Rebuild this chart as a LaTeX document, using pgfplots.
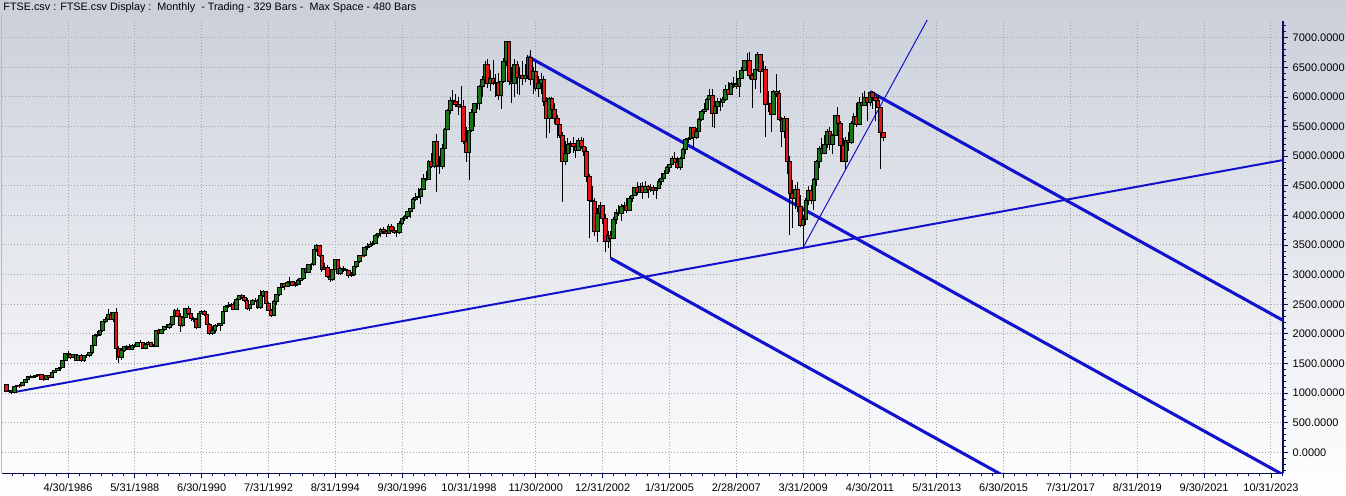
\documentclass[border=0pt]{standalone}
\usepackage{fontspec}
\setmainfont{Liberation Sans}
\usepackage{pgfplots}
\usepackage{pgfplotstable}
\pgfplotsset{compat=1.18}

\definecolor{cgreen}{RGB}{24,118,24}
\definecolor{cred}{RGB}{226,22,22}
\definecolor{tline}{RGB}{18,18,205}
\definecolor{navy}{RGB}{12,12,92}
\definecolor{gridc}{RGB}{165,165,170}
\definecolor{bgtop}{RGB}{202,207,218}
\definecolor{bgmid}{RGB}{236,238,243}

\pgfdeclareplotmark{nothing}{}
\def\kk{0.0444212}
\newcommand\fpcalc[2]{\begingroup\pgfkeys{/pgf/fpu=true,/pgf/fpu/output format=fixed}\pgfmathparse{#2}\xdef#1{\pgfmathresult}\endgroup}

\pgfplotstableread{
m o h l c
-23 1138 1140 1015 1022
-22 1022 1060 1000 1041
-21 1041 1050 986 1010
-20 1010 1110 1005 1104
-19 1104 1140 1095 1125
-18 1125 1145 1090 1120
-17 1120 1190 1115 1182
-16 1182 1235 1175 1232
-15 1232 1290 1225 1280
-14 1280 1300 1250 1260
-13 1260 1300 1250 1278
-12 1278 1300 1260 1291
-11 1291 1330 1280 1314
-10 1314 1320 1225 1234
-9 1234 1260 1200 1222
-8 1222 1300 1218 1290
-7 1290 1300 1250 1264
-6 1264 1360 1260 1353
-5 1353 1395 1340 1383
-4 1383 1415 1370 1412
-3 1412 1440 1380 1435
-2 1435 1550 1430 1543
-1 1543 1680 1540 1668
0 1668 1717 1630 1660
1 1660 1670 1570 1603
2 1603 1660 1590 1649
3 1649 1655 1540 1558
4 1558 1650 1550 1643
5 1643 1660 1530 1542
6 1542 1640 1530 1633
7 1633 1660 1590 1637
8 1637 1690 1610 1679
9 1679 1810 1660 1808
10 1808 1990 1800 1979
11 1979 2050 1950 1997
12 1997 2060 1970 2050
13 2050 2210 2030 2203
14 2203 2280 2180 2248
15 2248 2420 2240 2323
16 2323 2370 2230 2249
17 2249 2370 2200 2366
18 2366 2443 1565 1749
19 1749 1790 1515 1600
20 1600 1760 1560 1713
21 1713 1800 1690 1790
22 1790 1810 1720 1769
23 1769 1830 1730 1742
24 1742 1820 1730 1802
25 1802 1830 1760 1784
26 1784 1870 1780 1857
27 1857 1890 1840 1853
28 1853 1870 1740 1753
29 1753 1840 1740 1826
30 1826 1880 1810 1852
31 1852 1860 1770 1783
32 1783 1820 1770 1793
33 1793 2060 1780 2052
34 2052 2090 1990 2002
35 2002 2090 1990 2075
36 2075 2130 2040 2119
37 2119 2160 2090 2114
38 2114 2180 2090 2151
39 2151 2300 2140 2297
40 2297 2420 2290 2387
41 2387 2430 2290 2299
42 2299 2360 2030 2142
43 2142 2290 2110 2276
44 2276 2430 2260 2423
45 2423 2465 2310 2337
46 2337 2360 2220 2255
47 2255 2290 2200 2247
48 2247 2260 2080 2103
49 2103 2360 2100 2345
50 2345 2400 2330 2375
51 2375 2400 2300 2326
52 2326 2340 2120 2162
53 2162 2180 1985 2005
54 2005 2140 1980 2050
55 2050 2160 2020 2149
56 2149 2190 2120 2144
57 2144 2190 2050 2170
58 2170 2390 2160 2380
59 2380 2480 2370 2456
60 2456 2530 2440 2486
61 2486 2520 2450 2500
62 2500 2540 2400 2415
63 2415 2600 2400 2588
64 2588 2660 2570 2645
65 2645 2680 2590 2622
66 2622 2660 2540 2566
67 2566 2600 2400 2420
68 2420 2500 2390 2493
69 2493 2590 2480 2571
70 2571 2600 2530 2562
71 2562 2580 2420 2440
72 2440 2740 2420 2655
73 2655 2740 2630 2707
74 2707 2720 2510 2521
75 2521 2540 2380 2400
76 2400 2420 2281 2312
77 2312 2570 2300 2554
78 2554 2680 2480 2658
79 2658 2790 2640 2778
80 2778 2860 2740 2847
81 2847 2860 2740 2807
82 2807 2900 2790 2868
83 2868 2960 2840 2878
84 2878 2900 2800 2813
85 2813 2880 2790 2841
86 2841 2920 2820 2900
87 2900 2940 2830 2927
88 2927 3110 2910 3100
89 3100 3110 2990 3038
90 3038 3180 3030 3171
91 3171 3200 3080 3166
92 3166 3430 3150 3418
93 3418 3520 3380 3491
94 3491 3500 3300 3328
95 3328 3350 3050 3086
96 3086 3200 3070 3125
97 3125 3170 2950 2970
98 2970 3050 2876 2919
99 2919 3100 2900 3082
100 3082 3260 3070 3251
101 3251 3260 2990 3027
102 3027 3130 2990 3097
103 3097 3150 3040 3081
104 3081 3090 2990 3066
105 3066 3070 2950 2991
106 2991 3050 2954 3009
107 3009 3150 2980 3137
108 3137 3230 3110 3216
109 3216 3330 3200 3320
110 3320 3400 3290 3315
111 3315 3470 3300 3463
112 3463 3530 3420 3477
113 3477 3560 3460 3508
114 3508 3560 3490 3529
115 3529 3680 3520 3664
116 3664 3700 3610 3689
117 3689 3790 3640 3760
118 3760 3800 3680 3727
119 3727 3760 3630 3699
120 3699 3860 3690 3818
121 3818 3850 3720 3747
122 3747 3800 3690 3711
123 3711 3760 3630 3703
124 3703 3900 3690 3867
125 3867 3970 3840 3953
126 3953 4000 3910 3979
127 3979 4070 3940 4058
128 4058 4120 3960 4119
129 4119 4290 4050 4275
130 4275 4370 4250 4308
131 4308 4460 4290 4312
132 4312 4460 4190 4437
133 4437 4700 4430 4621
134 4621 4750 4580 4604
135 4604 4940 4590 4907
136 4907 5060 4800 4818
137 4818 5250 4800 5244
138 5244 5370 4400 4842
139 4842 5000 4700 4831
140 4831 5200 4780 5136
141 5136 5480 5050 5458
142 5458 5800 5440 5767
143 5767 6000 5720 5932
144 5932 6110 5800 5928
145 5928 6050 5830 5870
146 5870 6000 5700 5833
147 5833 6180 5800 5837
148 5837 5950 5200 5249
149 5249 5500 4900 5064
150 5064 5500 4600 5438
151 5438 5800 5400 5743
152 5743 5900 5500 5883
153 5883 6150 5800 5896
154 5896 6200 5780 6175
155 6175 6350 6000 6296
156 6296 6600 6260 6552
157 6552 6640 6150 6226
158 6226 6450 6100 6318
159 6318 6620 6200 6231
160 6231 6380 6000 6246
161 6246 6400 5950 6030
162 6030 6300 5800 6255
163 6255 6650 6230 6597
164 6597 6950 6530 6930
165 6930 6950 6200 6268
166 6268 6500 5900 6232
167 6232 6640 6000 6540
168 6540 6600 6050 6327
169 6327 6500 6030 6359
170 6359 6600 6200 6313
171 6313 6550 6250 6365
172 6365 6700 6300 6672
173 6672 6800 6200 6294
174 6294 6500 6050 6438
175 6438 6600 6100 6142
176 6142 6350 6000 6222
177 6222 6400 6050 6298
178 6298 6350 5850 5918
179 5918 6000 5300 5634
180 5634 6000 5385 5967
181 5967 6000 5750 5796
182 5796 5900 5550 5643
183 5643 5700 5300 5529
184 5529 5560 5300 5345
185 5345 5400 4230 4903
186 4903 5250 4850 5040
187 5040 5300 4950 5204
188 5204 5250 5050 5217
189 5217 5320 5050 5165
190 5165 5200 4970 5101
191 5101 5300 5090 5272
192 5272 5330 5120 5165
193 5165 5300 5000 5086
194 5086 5150 4560 4656
195 4656 4700 3612 4246
196 4246 4500 4000 4227
197 4227 4300 3650 3722
198 3722 4130 3550 4039
199 4039 4220 3950 4169
200 4169 4180 3850 3940
201 3940 4020 3386 3567
202 3567 3730 3450 3656
203 3656 3740 3277 3613
204 3613 3980 3600 3926
205 3926 4100 3850 4049
206 4049 4180 3990 4031
207 4031 4200 3900 4157
208 4157 4230 4100 4161
209 4161 4300 4040 4091
210 4091 4320 4080 4288
211 4288 4370 4230 4342
212 4342 4480 4320 4477
213 4477 4560 4340 4390
214 4390 4540 4370 4492
215 4492 4560 4280 4386
216 4386 4580 4370 4489
217 4489 4520 4290 4431
218 4431 4530 4400 4464
219 4464 4520 4340 4413
220 4413 4480 4280 4459
221 4459 4610 4440 4571
222 4571 4710 4520 4624
223 4624 4760 4610 4703
224 4703 4830 4700 4814
225 4814 4870 4740 4852
226 4852 5000 4850 4968
227 4968 5070 4880 4894
228 4894 4990 4780 4801
229 4801 4980 4770 4964
230 4964 5130 4950 5113
231 5113 5300 5030 5282
232 5282 5330 5230 5296
233 5296 5490 5290 5478
234 5478 5500 5130 5317
235 5317 5470 5290 5423
236 5423 5640 5400 5619
237 5619 5780 5600 5760
238 5760 5890 5720 5792
239 5792 5990 5780 5965
240 5965 6140 5960 6023
241 6023 6140 5500 5724
242 5724 5860 5467 5833
243 5833 5990 5710 5928
244 5928 5990 5760 5906
245 5906 6000 5830 5961
246 5961 6200 5930 6129
247 6129 6250 6040 6049
248 6049 6250 6040 6221
249 6221 6330 6150 6203
250 6203 6440 6140 6172
251 6172 6330 6000 6308
252 6308 6500 6300 6449
253 6449 6630 6430 6621
254 6621 6740 6500 6608
255 6608 6750 6300 6360
256 6360 6400 5806 6303
257 6303 6500 6130 6467
258 6467 6750 6440 6722
259 6722 6730 6060 6432
260 6432 6600 6200 6457
261 6457 6530 5330 5880
262 5880 6100 5750 5884
263 5884 5990 5400 5702
264 5702 6120 5700 6087
265 6087 6380 6000 6054
266 6054 6110 5600 5626
267 5626 5660 5150 5412
268 5412 5670 5300 5637
269 5637 5650 4700 4902
270 4902 5000 3665 4377
271 4377 4600 3780 4288
272 4288 4520 4100 4434
273 4434 4570 4050 4150
274 4150 4350 3800 3830
275 3830 4000 3460 3926
276 3926 4300 3840 4244
277 4244 4500 4180 4418
278 4418 4520 4200 4249
279 4249 4630 4090 4608
280 4608 4930 4500 4909
281 4909 5170 4800 5134
282 5134 5300 4990 5045
283 5045 5350 5030 5191
284 5191 5460 5140 5413
285 5413 5500 5100 5189
286 5189 5370 5030 5355
287 5355 5700 5350 5680
288 5680 5830 5540 5553
289 5553 5600 4900 5188
290 5188 5300 4900 4917
291 4917 5320 4790 5258
292 5258 5400 5080 5225
293 5225 5600 5210 5549
294 5549 5730 5500 5675
295 5675 5900 5500 5528
296 5528 6000 5520 5900
297 5900 6070 5860 5863
298 5863 6106 5850 5994
299 5994 6000 5600 5909
300 5909 6091 5850 6070
301 6070 6100 5800 5990
302 5990 6000 5600 5946
303 5946 6030 5700 5815
304 5815 5830 4791 5395
305 5395 5400 5250 5310
}\ftse

\begin{document}
\begin{tikzpicture}
\shade[top color=bgtop, middle color=bgmid, bottom color=white] (0,0) rectangle (1009.5pt,372pt);
\path[use as bounding box] (0,0) rectangle (1009.5pt,372pt);
\draw[gray!55, line width=0.75pt] (0.9pt,16.875pt) -- (0.9pt,362pt);
\node[anchor=west, inner sep=0pt, font=\fontsize{8.1}{10}\selectfont] at (2.4pt,366pt)
  {FTSE.csv : FTSE.csv Display :\ \ Monthly\ \ - Trading - 329 Bars -\ \ Max Space - 480 Bars};
\begin{axis}[
  at={(1.5pt,16.875pt)}, anchor=south west,
  scale only axis, width=960.75pt, height=339.6pt,
  xmin=-24.69, xmax=454.5, ymin=-358, ymax=7287,
  axis x line*=bottom, axis y line*=right,
  axis line style={-, draw=navy, line width=1.1pt},
  xtick={0,25,...,450},
  xticklabels={4/30/1986,5/31/1988,6/30/1990,7/31/1992,8/31/1994,9/30/1996,10/31/1998,11/30/2000,12/31/2002,1/31/2005,2/28/2007,3/31/2009,4/30/2011,5/31/2013,6/30/2015,7/31/2017,8/31/2019,9/30/2021,10/31/2023},
  minor xtick={-20.8333,-16.6667,...,454},
  ytick={0,500,...,7000},
  minor ytick={-300,-200,...,7200},
  tick align=outside,
  major tick length=3.75pt, minor tick length=2pt,
  tick style={navy, line width=0.6pt},
  grid=major,
  major grid style={gridc, line width=0.75pt, dash pattern=on 0.75pt off 1.5pt},
  yticklabel pos=right,
  tick label style={font=\fontsize{8.25}{10}\selectfont, text=black},
  y tick label style={/pgf/number format/.cd, fixed, fixed zerofill, precision=4, 1000 sep={}, assume math mode=true},
]
\addplot[scatter, only marks, mark=nothing,
  visualization depends on={\thisrow{o} \as \vo},
  visualization depends on={\thisrow{h} \as \vh},
  visualization depends on={\thisrow{l} \as \vl},
  visualization depends on={\thisrow{c} \as \vc},
  scatter/@pre marker code/.code={%
    \fpcalc\yh{(\vh-\vc)*\kk}%
    \fpcalc\yl{(\vl-\vc)*\kk}%
    \fpcalc\yo{(\vo-\vc)*\kk}%
    \ifdim\yo pt>0pt\relax\def\cc{cred}\else\def\cc{cgreen}\fi
    \draw[black, line width=0.7pt] (0pt,\yl pt) -- (0pt,\yh pt);
    \filldraw[fill=\cc, draw=black, line width=0.7pt] (-1.35pt,\yo pt) rectangle (1.35pt,0pt);
    \pgfscope
  },
  scatter/@post marker code/.code={\endpgfscope},
] table[x=m, y=c] {\ftse};
\addplot[tline, line width=1.5pt] coordinates {(-20.5,1013) (454.5,4934)};
\addplot[tline, line width=0.75pt] coordinates {(275,3460) (322,7348)};
\addplot[tline, line width=2.3pt] coordinates {(172.2,6678) (454.5,-379)};
\addplot[tline, line width=2.3pt] coordinates {(203,3277) (454.5,-3010)};
\addplot[tline, line width=2.3pt] coordinates {(300,6090) (454.5,2227)};
\end{axis}
\end{tikzpicture}
\end{document}
